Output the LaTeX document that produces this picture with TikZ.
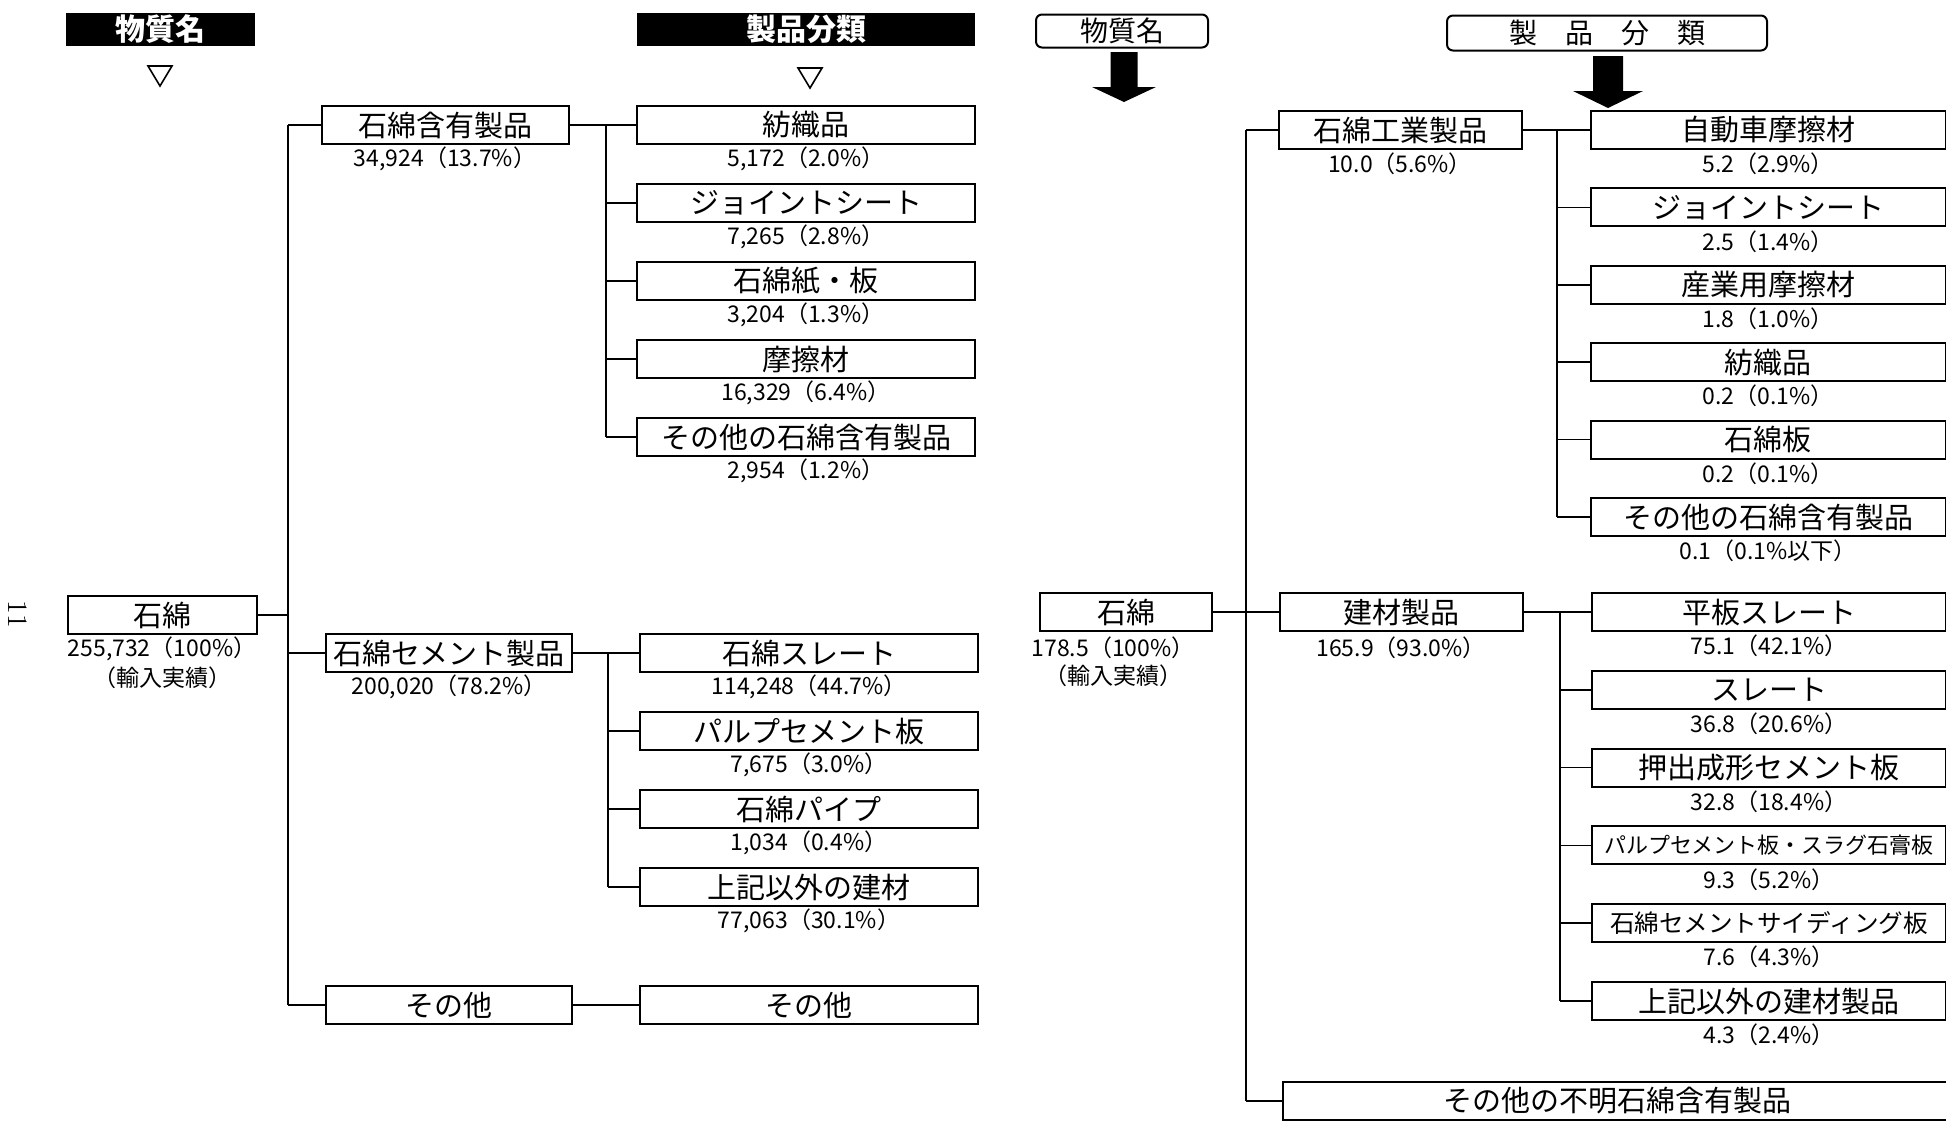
\documentclass[tikz,border=0pt]{standalone}
\usepackage{fontspec}
\newfontfamily\jp{Noto Sans CJK JP}
\usetikzlibrary{positioning}

\tikzset{
  box/.style={draw,line width=1pt,inner sep=0pt,minimum width=#1,minimum height=19pt,
    font=\jp\fontsize{14.5}{16}\selectfont},
  num/.style={inner sep=0pt,font=\jp\fontsize{11.5}{13}\selectfont},
  conn/.style={line width=0.8pt},
  blackhead/.style={fill=black,text=white,inner sep=0pt,minimum width=#1,minimum height=16.5pt,
    font=\jp\bfseries\fontsize{15}{17}\selectfont},
  roundhead/.style={draw,rounded corners=3pt,line width=1pt,inner sep=0pt,minimum width=#1,
    minimum height=16.5pt,font=\jp\fontsize{14}{16}\selectfont},
}

\begin{document}
\begin{tikzpicture}[x=0.5pt,y=-0.5pt]
\useasboundingbox (0,0) rectangle (1946,1120);

\node[rotate=-90,font=\fontsize{14}{16}\selectfont] (page) at (18,614) {11};

%%% left: import quantity
\node[blackhead=94.5pt] (hname) at (160,29) {物質名};
\node[blackhead=169pt] (hprod) at (806,29) {製品分類};
\draw[line width=0.8pt] (148,66) -- (172,66) -- (160,86) -- cycle;
\draw[line width=0.8pt] (798,68) -- (822,68) -- (810,88) -- cycle;

\node[box=94.5pt] (asb) at (162,615) {石綿};
\node[num] at (162,649) {255,732（100\%）};
\node[num] at (162,678) {（輸入実績）};

\node[box=123.5pt] (cont) at (445,125) {石綿含有製品};
\node[num] at (445,159) {34,924（13.7\%）};
\node[box=123pt] (cem) at (449,653) {石綿セメント製品};
\node[num] at (449,687) {200,020（78.2\%）};
\node[box=123pt] (oth) at (449,1005) {その他};

\coordinate (t) at (288,125);
\draw[conn] (asb.east) -- (asb.east -| t);
\draw[conn] (t) -- (t |- oth.west);
\foreach \n in {cont,cem,oth}
  \draw[conn] (t |- \n.west) -- (\n.west);

\coordinate (ta) at (606,125);
\foreach \name/\val [count=\i from 0] in {
  紡織品/{5,172（2.0\%）},
  ジョイントシート/{7,265（2.8\%）},
  石綿紙・板/{3,204（1.3\%）},
  摩擦材/{16,329（6.4\%）},
  その他の石綿含有製品/{2,954（1.2\%）}}
{
  \node[box=169pt] (a\i) at (806,125+78*\i) {\name};
  \node[num] at (806,159+78*\i) {\val};
  \draw[conn] (ta |- a\i.west) -- (a\i.west);
}
\draw[conn] (cont.east) -- (a0.west);
\draw[conn] (ta) -- (ta |- a4.west);

\coordinate (tb) at (608,653);
\foreach \name/\val [count=\i from 0] in {
  石綿スレート/{114,248（44.7\%）},
  パルプセメント板/{7,675（3.0\%）},
  石綿パイプ/{1,034（0.4\%）},
  上記以外の建材/{77,063（30.1\%）}}
{
  \node[box=169pt] (b\i) at (809,653+78*\i) {\name};
  \node[num] at (809,687+78*\i) {\val};
  \draw[conn] (tb |- b\i.west) -- (b\i.west);
}
\draw[conn] (cem.east) -- (b0.west);
\draw[conn] (tb) -- (tb |- b3.west);
\node[box=169pt] (ob) at (809,1005) {その他};
\draw[conn] (oth.east) -- (ob.west);

%%% right: amounts
\node[roundhead=86pt] (rname) at (1122,31) {物質名};
\node[roundhead=160pt,minimum height=17.5pt] (rprod) at (1607,33) {製　品　分　類};
\fill[shift={(1124,52)}] (-13.5,0) -- (13.5,0) -- (13.5,35) -- (32,35) -- (0,50) -- (-32,35) -- (-13.5,35) -- cycle;
\fill[shift={(1608,56)}] (-15,0) -- (15,0) -- (15,35) -- (35,35) -- (0,52) -- (-35,35) -- (-15,35) -- cycle;

\node[box=86pt] (rasb) at (1126,612) {石綿};
\node[num] at (1113,648) {178.5（100\%）};
\node[num] at (1113,676) {（輸入実績）};

\node[box=121.5pt] (ind) at (1400,130) {石綿工業製品};
\node[num] at (1400,164) {10.0（5.6\%）};
\node[box=121.5pt] (bld) at (1401,612) {建材製品};
\node[num] at (1401,648) {165.9（93.0\%）};
\node[box=334pt,anchor=west] (unk) at (1282,1101) {その他の不明石綿含有製品};

\coordinate (tr) at (1246,130);
\draw[conn] (rasb.east) -- (bld.west);
\draw[conn] (tr) -- (tr |- unk.west);
\draw[conn] (tr) -- (ind.west);
\draw[conn] (tr |- unk.west) -- (unk.west);

\coordinate (tc) at (1557,130);
\foreach \name/\val [count=\i from 0] in {
  自動車摩擦材/{5.2（2.9\%）},
  ジョイントシート/{2.5（1.4\%）},
  産業用摩擦材/{1.8（1.0\%）},
  紡織品/{0.2（0.1\%）},
  石綿板/{0.2（0.1\%）},
  その他の石綿含有製品/{0.1（0.1\%以下）}}
{
  \node[box=177.5pt] (c\i) at (1768,130+77.4*\i) {\name};
  \node[num] at (1768,164+77.4*\i) {\val};
  \draw[conn] (tc |- c\i.west) -- (c\i.west);
}
\draw[conn] (ind.east) -- (c0.west);
\draw[conn] (tc) -- (tc |- c5.west);

\coordinate (td) at (1560,612);
\foreach \name/\val [count=\i from 0] in {
  平板スレート/{75.1（42.1\%）},
  スレート/{36.8（20.6\%）},
  押出成形セメント板/{32.8（18.4\%）},
  {\fontsize{11}{13}\selectfont パルプセメント板・スラグ石膏板}/{9.3（5.2\%）},
  {\fontsize{12.3}{14}\selectfont 石綿セメントサイディング板}/{7.6（4.3\%）},
  上記以外の建材製品/{4.3（2.4\%）}}
{
  \node[box=177pt] (d\i) at (1769,612+77.8*\i) {\name};
  \node[num] at (1769,646+77.8*\i) {\val};
  \draw[conn] (td |- d\i.west) -- (d\i.west);
}
\draw[conn] (bld.east) -- (d0.west);
\draw[conn] (td) -- (td |- d5.west);

\end{tikzpicture}
\end{document}
